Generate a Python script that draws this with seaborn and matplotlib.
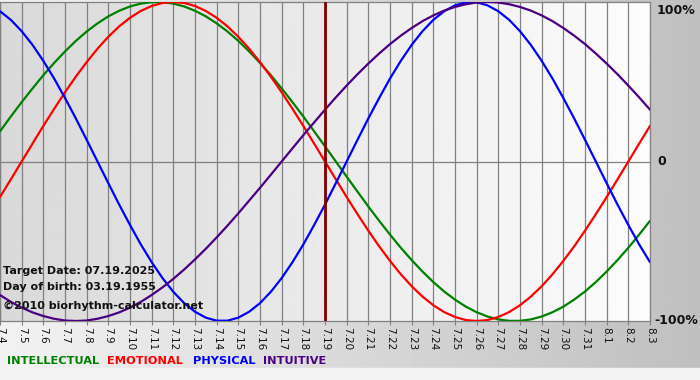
import numpy as np
import pandas as pd
import matplotlib
matplotlib.use("Agg")
import matplotlib.pyplot as plt
import seaborn as sns

# day labels along the x axis (month.day)
DAY_LABELS = ["7.4", "7.5", "7.6", "7.7", "7.8", "7.9", "7.10", "7.11", "7.12",
              "7.13", "7.14", "7.15", "7.16", "7.17", "7.18", "7.19", "7.20",
              "7.21", "7.22", "7.23", "7.24", "7.25", "7.26", "7.27", "7.28",
              "7.29", "7.30", "7.31", "8.1", "8.2", "8.3"]

# cycle values in percent, read every half day from 7.4 to 8.3
INTELLECTUAL = [18.9, 28.2, 37.2, 45.8, 54.1, 61.8, 69.0, 75.6, 81.5, 86.6, 91.0, 94.5,
                97.2, 99.0, 99.9, 99.9, 99.0, 97.2, 94.5, 91.0, 86.6, 81.5, 75.6, 69.0,
                61.8, 54.1, 45.8, 37.2, 28.2, 18.9, 9.5, 0,
                -9.5, -18.9, -28.2, -37.2, -45.8, -54.1, -61.8, -69.0, -75.6, -81.5,
                -86.6, -91.0, -94.5, -97.2, -99.0, -99.9, -99.9, -99.0, -97.2, -94.5,
                -91.0, -86.6, -81.5, -75.6, -69.0, -61.8, -54.1, -45.8, -37.2]
EMOTIONAL = [-22.3, -11.2, 0, 11.2, 22.3, 33.0, 43.4, 53.2, 62.3, 70.7, 78.2, 84.7,
             90.1, 94.4, 97.5, 99.4, 100,
             99.4, 97.5, 94.4, 90.1, 84.7, 78.2, 70.7, 62.3, 53.2, 43.4, 33.0, 22.3, 11.2, 0,
             -11.2, -22.3, -33.0, -43.4, -53.2, -62.3, -70.7, -78.2, -84.7, -90.1, -94.4,
             -97.5, -99.4, -100,
             -99.4, -97.5, -94.4, -90.1, -84.7, -78.2, -70.7, -62.3, -53.2, -43.4, -33.0,
             -22.3, -11.2, 0, 11.2, 22.3]
PHYSICAL = [94.2, 88.8, 81.7, 73.1, 63.1, 52.0, 39.8, 27.0, 13.6, 0,
            -13.6, -27.0, -39.8, -52.0, -63.1, -73.1, -81.7, -88.8, -94.2, -97.9, -99.8,
            -99.8, -97.9, -94.2, -88.8, -81.7, -73.1, -63.1, -52.0, -39.8, -27.0, -13.6, 0,
            13.6, 27.0, 39.8, 52.0, 63.1, 73.1, 81.7, 88.8, 94.2, 97.9, 99.8,
            99.8, 97.9, 94.2, 88.8, 81.7, 73.1, 63.1, 52.0, 39.8, 27.0, 13.6, 0,
            -13.6, -27.0, -39.8, -52.0, -63.1]
INTUITIVE = [-83.7, -88.0, -91.6, -94.6, -96.9, -98.6, -99.7, -100, -99.7, -98.6, -96.9,
             -94.6, -91.6, -88.0, -83.7, -78.9, -73.6, -67.7, -61.4, -54.7, -47.6, -40.2,
             -32.5, -24.5, -16.5, -8.3, 0,
             8.3, 16.5, 24.5, 32.5, 40.2, 47.6, 54.7, 61.4, 67.7, 73.6, 78.9, 83.7, 88.0,
             91.6, 94.6, 96.9, 98.6, 99.7, 100, 99.7, 98.6, 96.9, 94.6, 91.6, 88.0, 83.7,
             78.9, 73.6, 67.7, 61.4, 54.7, 47.6, 40.2, 32.5]

CYCLES = ["INTELLECTUAL", "EMOTIONAL", "PHYSICAL", "INTUITIVE"]
COLORS = {"INTELLECTUAL": "#008000", "EMOTIONAL": "#ff0000",
          "PHYSICAL": "#0000ff", "INTUITIVE": "#4b0082"}

TARGET_LABEL = "7.19"
TARGET_DATE = "07.19.2025"
BIRTH_DATE = "03.19.1955"

sns.set_style("white")
plt.rcParams["font.family"] = ["DejaVu Sans"]

rows = []
for name, vals in zip(CYCLES, [INTELLECTUAL, EMOTIONAL, PHYSICAL, INTUITIVE]):
    for i, v in enumerate(vals):
        rows.append({"day": i / 2, "value": v, "cycle": name})
df = pd.DataFrame(rows)

fig = plt.figure(figsize=(7, 3.8), dpi=100)

# figure background: light on the left, grey on the right
bg = fig.add_axes([0, 0, 1, 1])
bg.imshow(np.linspace(0.95, 0.75, 256).reshape(1, -1), cmap="gray", vmin=0, vmax=1,
          extent=(0, 1, 12 / 380, 1), aspect="auto")
bg.axhspan(0, 12 / 380, color="#f4f4f4")
bg.set_xlim(0, 1)
bg.set_ylim(0, 1)
bg.axis("off")

W, H = 700, 380
ax = fig.add_axes([0, (H - 321) / H, 650 / W, 319 / H])
n = len(DAY_LABELS) - 1

# plot area background: grey on the left, white on the right
ax.imshow(np.linspace(0.85, 0.99, 256).reshape(1, -1), cmap="gray", vmin=0, vmax=1,
          extent=(0, n, -100, 100), aspect="auto", zorder=0)

ax.set_xticks(range(len(DAY_LABELS)))
ax.set_xticklabels(DAY_LABELS, rotation=-90, fontsize=7.5, color="#111111")
ax.xaxis.grid(True, color="#808080", linewidth=0.9)
ax.axhline(0, color="#808080", linewidth=0.9, zorder=1)
ax.tick_params(axis="x", bottom=True, length=3, color="#808080", pad=1)
ax.set_yticks([])

sns.lineplot(data=df, x="day", y="value", hue="cycle", palette=COLORS,
             linewidth=1.6, legend=False, ax=ax, zorder=3,
             solid_joinstyle="round", solid_capstyle="round")

ax.axvline(DAY_LABELS.index(TARGET_LABEL), color="#800000", linewidth=2, zorder=4)

ax.set_xlim(0, n)
ax.set_ylim(-100, 100)
ax.set_xlabel("")
ax.set_ylabel("")
for s in ax.spines.values():
    s.set_color("#808080")
    s.set_linewidth(0.9)

lab = dict(transform=ax.transAxes, fontsize=9, fontweight="bold", color="#111111")
ax.text(1.01, 0.995, "100%", va="top", ha="left", **lab)
ax.text(1.012, 0.5, "0", va="center", ha="left", **lab)
ax.text(1.006, 0.0, "-100%", va="center", ha="left", **lab)

info = dict(transform=ax.transAxes, fontsize=8, fontweight="bold", color="#111111",
            va="center", ha="left", zorder=5)
ax.text(0.004, (321 - 271) / 319, "Target Date: " + TARGET_DATE, **info)
ax.text(0.004, (321 - 287) / 319, "Day of birth: " + BIRTH_DATE, **info)
ax.text(0.004, (321 - 306) / 319, "\u00a92010 biorhythm-calculator.net", **info)

legend_x = [7, 107, 193, 263]
for name, x in zip(CYCLES, legend_x):
    fig.text(x / W, (H - 361) / H, name, color=COLORS[name], fontsize=8.2,
             fontweight="bold", va="center", ha="left")

fig.savefig("out.png", dpi=100)
